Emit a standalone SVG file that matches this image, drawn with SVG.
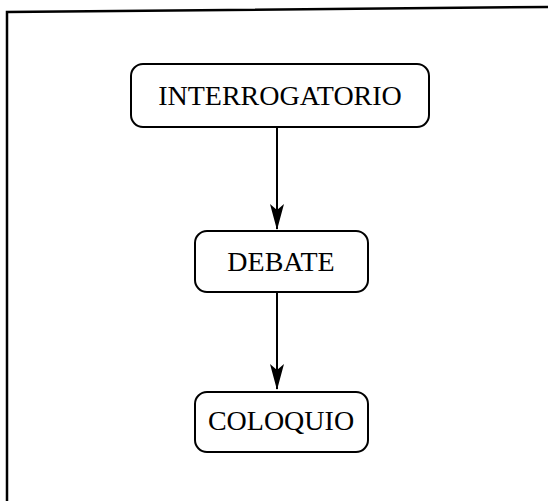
<svg xmlns="http://www.w3.org/2000/svg" width="548" height="501" viewBox="0 0 548 501">
<style>
.box{fill:#fff;stroke:#000;stroke-width:2}
.lbl{font-family:"Liberation Serif","Times New Roman",serif;font-size:28px;fill:#000;text-anchor:middle}
.edge{stroke:#000;stroke-width:2;fill:none}
</style>
<defs>
<marker id="ah" markerWidth="26" markerHeight="14" refX="25" refY="7" orient="auto" markerUnits="userSpaceOnUse" viewBox="0 0 26 14">
<path d="M0,0 L6,7 L0,14 L26,7 Z" fill="#000"/>
</marker>
</defs>
<rect width="548" height="501" fill="#fff"/>
<g id="frame">
<path d="M7,501 L7,12 L548,7" fill="none" stroke="#000" stroke-width="2.5"/>
</g>
<g id="connectors">
<line class="edge" x1="277" y1="127" x2="277" y2="229" marker-end="url(#ah)"/>
<line class="edge" x1="277" y1="292" x2="277" y2="389" marker-end="url(#ah)"/>
</g>
<g id="interrogatorio">
<rect class="box" x="131" y="64" width="298" height="63" rx="12"/>
<text class="lbl" x="280" y="105">INTERROGATORIO</text>
</g>
<g id="debate">
<rect class="box" x="195" y="231" width="173" height="61" rx="12"/>
<text class="lbl" x="281" y="271">DEBATE</text>
</g>
<g id="coloquio">
<rect class="box" x="195" y="392" width="173" height="60" rx="12"/>
<text class="lbl" x="281" y="430">COLOQUIO</text>
</g>
</svg>
